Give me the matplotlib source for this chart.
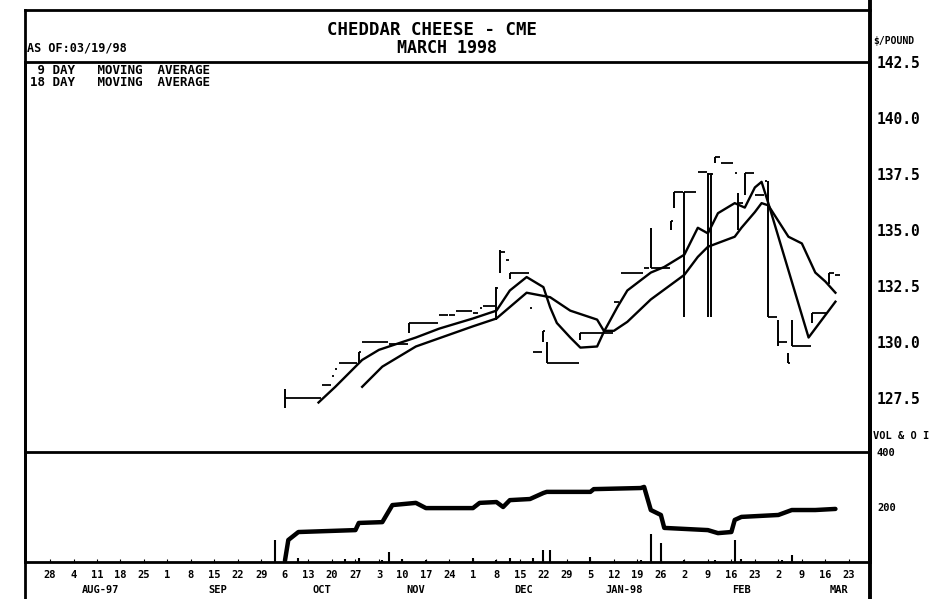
import matplotlib
matplotlib.use('Agg')
import matplotlib.pyplot as plt
import matplotlib.dates as mdates
from matplotlib.lines import Line2D
from matplotlib.ticker import FuncFormatter
from matplotlib.transforms import blended_transform_factory
import pandas as pd

# daily bars (date, high, low, close)
bar_dates = ['1997-10-06', '1997-10-17', '1997-10-20', '1997-10-21', '1997-10-22',
             '1997-10-28', '1997-10-29', '1997-11-06', '1997-11-12', '1997-11-21',
             '1997-11-24', '1997-11-26', '1997-12-01', '1997-12-03', '1997-12-04',
             '1997-12-08', '1997-12-09', '1997-12-11', '1997-12-12', '1997-12-18',
             '1997-12-19', '1997-12-22', '1997-12-23', '1998-01-02', '1998-01-12',
             '1998-01-14', '1998-01-21', '1998-01-23', '1998-01-29', '1998-01-30',
             '1998-02-02', '1998-02-06', '1998-02-09', '1998-02-10', '1998-02-11',
             '1998-02-13', '1998-02-17', '1998-02-18', '1998-02-20', '1998-02-23',
             '1998-02-26', '1998-02-27', '1998-03-02', '1998-03-05', '1998-03-06',
             '1998-03-12', '1998-03-17', '1998-03-19']
bar_high = [127.9, 128.1, 128.5, 128.8, 129.05, 129.55, 130.0, 129.9, 130.85, 131.2,
            131.2, 131.4, 131.3, 131.5, 131.6, 132.45, 134.1, 133.66, 133.1, 131.5,
            129.55, 130.5, 130.0, 130.4, 131.8, 133.1, 133.3, 135.1, 135.4, 136.7,
            136.7, 137.6, 137.55, 137.55, 138.26, 138.0, 137.55, 136.65, 137.55, 136.56,
            137.2, 137.2, 131.0, 129.5, 131.0, 131.3, 133.1, 133.0]
bar_low = [127.05, 128.1, 128.5, 128.8, 129.05, 129.05, 130.0, 129.9, 130.4, 131.2,
           131.2, 131.4, 131.3, 131.5, 131.6, 131.0, 133.1, 133.66, 132.8, 131.5,
           129.55, 130.0, 129.06, 130.1, 131.8, 133.1, 133.3, 133.3, 135.0, 136.0,
           131.1, 137.6, 131.1, 131.1, 138.0, 138.0, 137.55, 135.0, 136.56, 136.56,
           137.2, 131.1, 129.8, 129.05, 129.8, 130.85, 132.6, 133.0]
bar_close = [127.5, 128.1, 128.5, 128.8, 129.05, 129.55, 130.0, 129.9, 130.85, 131.2,
             131.2, 131.4, 131.3, 131.5, 131.6, 132.4, 134.0, 133.66, 133.1, 131.5,
             129.55, 130.5, 129.06, 130.4, 131.8, 133.1, 133.3, 133.3, 135.4, 136.7,
             136.7, 137.6, 137.5, 137.5, 138.26, 138.0, 137.55, 136.2, 137.55, 136.56,
             137.2, 131.1, 130.0, 129.05, 129.8, 131.3, 133.1, 133.0]

ma9_dates = ['1997-10-16', '1997-10-21', '1997-10-29', '1997-11-03', '1997-11-07',
             '1997-11-14', '1997-11-21', '1997-12-01', '1997-12-08', '1997-12-12',
             '1997-12-17', '1997-12-22', '1997-12-24', '1997-12-26', '1997-12-30',
             '1998-01-02', '1998-01-07', '1998-01-09', '1998-01-13', '1998-01-16',
             '1998-01-23', '1998-01-27', '1998-02-02', '1998-02-06', '1998-02-09',
             '1998-02-12', '1998-02-17', '1998-02-20', '1998-02-23', '1998-02-25',
             '1998-02-27', '1998-03-05', '1998-03-11', '1998-03-19']
ma9_vals = [127.3, 128.0, 129.2, 129.65, 129.85, 130.2, 130.6, 131.05, 131.4, 132.3,
            132.9, 132.45, 131.55, 130.85, 130.2, 129.75, 129.8, 130.45, 131.55, 132.3,
            133.1, 133.35, 133.9, 135.1, 134.85, 135.75, 136.2, 136.0, 136.9, 137.15,
            136.2, 133.2, 130.2, 131.8]

ma18_dates = ['1997-10-29', '1997-11-04', '1997-11-14', '1997-12-01', '1997-12-08',
              '1997-12-17', '1997-12-24', '1997-12-30', '1998-01-07', '1998-01-09',
              '1998-01-12', '1998-01-16', '1998-01-23', '1998-02-02', '1998-02-06',
              '1998-02-09', '1998-02-17', '1998-02-19', '1998-02-23', '1998-02-25',
              '1998-02-27', '1998-03-05', '1998-03-09', '1998-03-13', '1998-03-16',
              '1998-03-19']
ma18_vals = [128.0, 128.9, 129.8, 130.7, 131.05, 132.2, 132.0, 131.4, 131.0, 130.5,
             130.5, 130.9, 131.9, 133.0, 133.8, 134.25, 134.7, 135.1, 135.8, 136.2,
             136.1, 134.7, 134.4, 133.1, 132.7, 132.2]

oi_dates = ['1997-10-06', '1997-10-07', '1997-10-10', '1997-10-27', '1997-10-28',
            '1997-11-04', '1997-11-07', '1997-11-14', '1997-11-17', '1997-12-01',
            '1997-12-03', '1997-12-08', '1997-12-10', '1997-12-12', '1997-12-18',
            '1997-12-22', '1997-12-23', '1998-01-05', '1998-01-06', '1998-01-20',
            '1998-01-21', '1998-01-23', '1998-01-26', '1998-01-27', '1998-02-09',
            '1998-02-12', '1998-02-16', '1998-02-17', '1998-02-19', '1998-03-02',
            '1998-03-06', '1998-03-13', '1998-03-19']
oi_vals = [5, 80, 109, 116, 142, 145, 207, 215, 196, 196, 215, 218, 200, 225, 229,
           251, 255, 255, 265, 269, 273, 189, 171, 124, 116, 105, 109, 153, 164, 171,
           189, 189, 193]

vol_dates = ['1997-10-03', '1997-10-06', '1997-10-10', '1997-10-24', '1997-10-28',
             '1997-11-04', '1997-11-06', '1997-11-10', '1997-11-17', '1997-12-01',
             '1997-12-08', '1997-12-12', '1997-12-19', '1997-12-22', '1997-12-24',
             '1998-01-05', '1998-01-20', '1998-01-23', '1998-01-26', '1998-02-02',
             '1998-02-11', '1998-02-17', '1998-02-19', '1998-03-03', '1998-03-06']
vol_vals = [80, 10, 15, 12, 15, 8, 36, 10, 8, 15, 8, 15, 15, 44, 44, 20, 6, 102, 69,
            6, 6, 80, 10, 6, 25]

week_ticks = pd.date_range('1997-07-28', '1998-03-23', freq='W-MON')
month_names = ['AUG-97', 'SEP', 'OCT', 'NOV', 'DEC', 'JAN-98', 'FEB', 'MAR']
month_label_dates = ['1997-08-12', '1997-09-16', '1997-10-17', '1997-11-14',
                     '1997-12-16', '1998-01-15', '1998-02-19', '1998-03-20']
price_ticks = [127.5, 130.0, 132.5, 135.0, 137.5, 140.0, 142.5]
vol_ticks = [200, 400]


def d2n(lst):
    return mdates.date2num(pd.to_datetime(lst).to_pydatetime())


W, H = 943, 599
MONO = 'DejaVu Sans Mono'


def rect(x0, y0, x1, y1):
    return [x0 / W, 1 - y1 / H, (x1 - x0) / W, (y1 - y0) / H]


fig = plt.figure(figsize=(W / 100, H / 100), dpi=100)
axv = fig.add_axes(rect(25, 452, 870, 562))
ax = fig.add_axes(rect(25, 62, 870, 452), sharex=axv)
ax.patch.set_alpha(0)

# price bars: high-low stroke plus close dash running to next bar
bx = d2n(bar_dates)
for i in range(len(bx)):
    end = bx[i + 1] - 0.4 if i + 1 < len(bx) else bx[i] + 1.5
    ax.hlines(bar_close[i], bx[i], end, color='black', lw=1.3)
    if bar_high[i] > bar_low[i]:
        ax.vlines(bx[i], bar_low[i], bar_high[i], color='black', lw=1.4)

ax.plot(d2n(ma9_dates), ma9_vals, color='black', lw=1.7)
ax.plot(d2n(ma18_dates), ma18_vals, color='black', lw=1.7)

x0 = mdates.date2num(pd.Timestamp('1997-07-28')) - 7.45
x1 = mdates.date2num(pd.Timestamp('1997-07-28')) + 244.3
ax.set_xlim(x0, x1)
ax.set_ylim(125.09, 142.5)
ax.yaxis.tick_right()
ax.set_yticks(price_ticks)
ax.set_yticklabels(['%.1f' % v for v in price_ticks], fontfamily=MONO,
                   fontweight='bold', fontsize=10.5)
ax.tick_params(axis='y', length=0, pad=5)
ax.tick_params(axis='x', which='both', bottom=False, labelbottom=False)
for s in ['left', 'top', 'bottom']:
    ax.spines[s].set_linewidth(2.0)
ax.spines['right'].set_linewidth(2.8)

# volume spikes and open interest
axv.vlines(d2n(vol_dates), 0, vol_vals, color='black', lw=1.5)
axv.plot(d2n(oi_dates), oi_vals, color='black', lw=3.2, solid_capstyle='round')
axv.set_ylim(0, 400)
axv.yaxis.tick_right()
axv.set_yticks(vol_ticks)
axv.set_yticklabels([str(v) for v in vol_ticks], fontfamily=MONO,
                    fontweight='bold', fontsize=7.5)
axv.tick_params(axis='y', length=0, pad=5)
axv.spines['top'].set_visible(False)
for s in ['left', 'bottom']:
    axv.spines[s].set_linewidth(2.0)
axv.spines['right'].set_linewidth(2.8)
axv.set_xticks(d2n(week_ticks))
axv.xaxis.set_major_formatter(
    FuncFormatter(lambda v, p: str(mdates.num2date(v).day)))
axv.tick_params(axis='x', direction='in', length=2, pad=6, labelsize=7.5)
for t in axv.get_xticklabels():
    t.set_fontfamily(MONO)
    t.set_fontweight('bold')

trans = blended_transform_factory(axv.transData, fig.transFigure)
for name, d in zip(month_names, d2n(month_label_dates)):
    axv.text(d, 1 - 590 / H, name, transform=trans, ha='center', va='center',
             fontfamily=MONO, fontweight='bold', fontsize=7.5)

# frame lines of the header block and outer rules
for (xa, ya, xb, yb, lw) in [(25, 10, 870, 10, 2.0), (25, 10, 25, 599, 2.0),
                             (870, 0, 870, 599, 2.8)]:
    fig.add_artist(Line2D([xa / W, xb / W], [1 - ya / H, 1 - yb / H],
                          transform=fig.transFigure, color='black', lw=lw))


def ftext(x, y, s, size, ha='left'):
    fig.text(x / W, 1 - y / H, s, ha=ha, va='center', fontfamily=MONO,
             fontweight='bold', fontsize=size)


ftext(432, 30, 'CHEDDAR CHEESE - CME', 12.5, ha='center')
ftext(447, 48, 'MARCH 1998', 12, ha='center')
ftext(27, 48, 'AS OF:03/19/98', 8.5)
ftext(30, 70, ' 9 DAY   MOVING  AVERAGE', 9)
ftext(30, 83, '18 DAY   MOVING  AVERAGE', 9)
ftext(873, 41, '$/POUND', 7)
ftext(873, 436, 'VOL & O I', 7.5)

fig.savefig('out.png', dpi=100)
